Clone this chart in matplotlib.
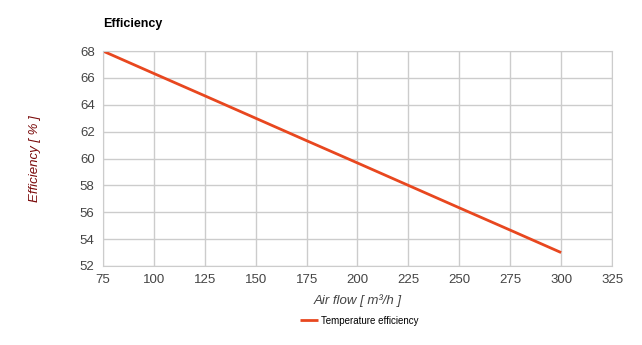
import numpy as np
import matplotlib.pyplot as plt

plt.rcParams['font.family'] = ['Liberation Sans', 'DejaVu Sans']

air_flow = [75, 100, 125, 150, 175, 200, 225, 250, 275, 300]
temp_eff = [68.0, 66.33, 64.67, 63.0, 61.33, 59.67, 58.0, 56.33, 54.67, 53.0]
x_ticks = np.arange(75, 326, 25)
y_ticks = np.arange(52, 69, 2)

fig = plt.figure(figsize=(6.42, 3.45), dpi=100)
ax = fig.add_axes([0.1604, 0.229, 0.7929, 0.623])

ax.plot(air_flow, temp_eff, color='#e8471f', lw=2, label='Temperature efficiency',
        solid_capstyle='butt')
ax.set_xlim(75, 325)
ax.set_ylim(52, 68)
ax.set_xticks(x_ticks)
ax.set_yticks(y_ticks)
ax.grid(True, color='#cccccc', lw=1)
ax.set_axisbelow(True)
for s in ax.spines.values():
    s.set_color('#cccccc')
ax.tick_params(length=0, labelsize=9.5, labelcolor='#444444', pad=6)

ax.set_xlabel('Air flow [ m³/h ]', fontsize=9.5, style='italic', color='#444444', labelpad=6)
ax.set_ylabel('Efficiency [ % ]', fontsize=9.5, style='italic', color='#7a0a0a', labelpad=28)
fig.text(0.1604, 0.922, 'Efficiency', fontsize=9, fontweight='bold', color='black')

leg = fig.legend(loc='center', bbox_to_anchor=(0.56, 0.07), frameon=False, fontsize=7,
                 handlelength=1.8, handletextpad=0.4)

fig.savefig('out.png', dpi=100)
